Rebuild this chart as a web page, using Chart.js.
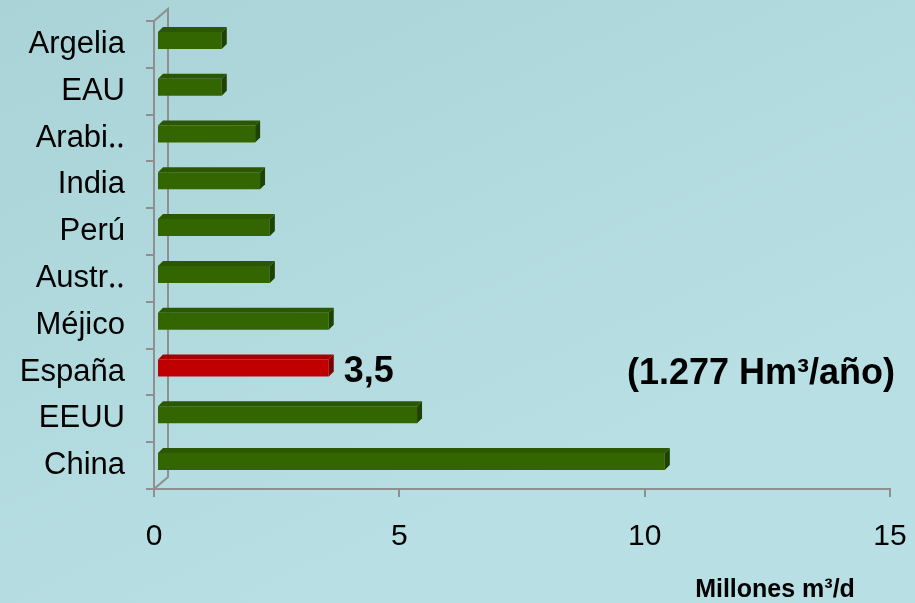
<!DOCTYPE html>
<html>
<head>
<meta charset="utf-8">
<script src="https://cdn.jsdelivr.net/npm/chart.js@4.4.1/dist/chart.umd.min.js"></script>
<style>
html,body{margin:0;padding:0;background:#b0dadd;}
#wrap{width:915px;height:603px;position:relative;}
</style>
</head>
<body>
<div id="wrap"><canvas id="c"></canvas></div>
<script>
const categories = ['Argelia','EAU','Arabi\u2025','India','Per\u00fa','Austr\u2025','M\u00e9jico','Espa\u00f1a','EEUU','China'];
const values = [1.32, 1.32, 2.0, 2.1, 2.3, 2.3, 3.5, 3.5, 5.3, 10.35];
const highlight = 'Espa\u00f1a';
const highlightLabel = '3,5';
const noteText = '(1.277 Hm\u00b3/a\u00f1o)';
const axisTitle = 'Millones m\u00b3/d';
const xTicks = [0, 5, 10, 15];

const FRONT = {g:'#336600', r:'#c00000'};
const TOP = {g:'#2b5700', r:'#a80000'};
const SIDE = {g:'#1f4200', r:'#7a0000'};
const SHIFT = {x:3, y:-4};
const DEPTH = 5;

const bgPlugin = {
  id:'bg',
  beforeDraw(chart){
    const {ctx, width, height} = chart;
    const g = ctx.createLinearGradient(0,0,width*0.3,height);
    g.addColorStop(0,'#a9d3d7');
    g.addColorStop(1,'#b8e0e4');
    ctx.save(); ctx.fillStyle = g; ctx.fillRect(0,0,width,height); ctx.restore();
  }
};

const axis3d = {
  id:'axis3d',
  beforeDatasetsDraw(chart){
    const {ctx, chartArea:a} = chart;
    const dx = 14, dy = -12;
    ctx.save();
    ctx.strokeStyle = '#8f8f8f';
    ctx.lineWidth = 2;
    ctx.beginPath();
    ctx.moveTo(a.left, a.top); ctx.lineTo(a.left+dx, a.top+dy);
    ctx.lineTo(a.left+dx, a.bottom+dy); ctx.lineTo(a.left, a.bottom);
    ctx.stroke();
    ctx.restore();
  }
};

const bars3d = {
  id:'bars3d',
  beforeDatasetsDraw(chart){
    chart.ctx.save();
    chart.ctx.translate(SHIFT.x, SHIFT.y);
  },
  afterDatasetsDraw(chart){
    const ctx = chart.ctx;
    const meta = chart.getDatasetMeta(0);
    meta.data.forEach((bar, i) => {
      const {x, y, base, height} = bar.getProps(['x','y','base','height'], true);
      const key = categories[i] === highlight ? 'r' : 'g';
      const t = y - height/2, b = y + height/2;
      ctx.fillStyle = TOP[key];
      ctx.beginPath();
      ctx.moveTo(base, t); ctx.lineTo(x, t); ctx.lineTo(x+DEPTH, t-DEPTH); ctx.lineTo(base+DEPTH, t-DEPTH); ctx.closePath(); ctx.fill();
      ctx.fillStyle = SIDE[key];
      ctx.beginPath();
      ctx.moveTo(x, t); ctx.lineTo(x+DEPTH, t-DEPTH); ctx.lineTo(x+DEPTH, b-DEPTH); ctx.lineTo(x, b); ctx.closePath(); ctx.fill();
      if (categories[i] === highlight) {
        ctx.fillStyle = '#000';
        ctx.font = 'bold 36px "Liberation Sans", Arial, sans-serif';
        ctx.textAlign = 'left'; ctx.textBaseline = 'middle';
        ctx.fillText(highlightLabel, x + 15, y + 4);
      }
    });
    ctx.restore();
  },
  afterDraw(chart){
    const ctx = chart.ctx;
    ctx.save();
    ctx.fillStyle = '#000';
    ctx.textBaseline = 'middle';
    ctx.font = 'bold 36px "Liberation Sans", Arial, sans-serif';
    ctx.textAlign = 'right';
    ctx.fillText(noteText, 895, 374);
    ctx.font = 'bold 25px "Liberation Sans", Arial, sans-serif';
    ctx.textAlign = 'center';
    ctx.fillText(axisTitle, 775, 590);
    ctx.restore();
  }
};

function noPad(s){ s.paddingTop = 0; s.paddingBottom = 0; s.paddingLeft = 0; s.paddingRight = 0; }

new Chart(document.getElementById('c'), {
  type:'bar',
  data:{
    labels: categories,
    datasets:[{
      data: values,
      backgroundColor: categories.map(c => c === highlight ? FRONT.r : FRONT.g),
      borderWidth: 0,
      categoryPercentage: 0.8,
      barPercentage: 0.455
    }]
  },
  options:{
    indexAxis:'y',
    responsive:true,
    maintainAspectRatio:false,
    animation:false,
    events:[],
    layout:{padding:{top:21, right:25, left:0, bottom:0}},
    plugins:{legend:{display:false}, tooltip:{enabled:false}},
    scales:{
      x:{
        min:0, max:15,
        afterBuildTicks(s){ s.ticks = xTicks.map(v => ({value:v})); },
        afterFit(s){ s.height = 114; noPad(s); },
        grid:{drawOnChartArea:false, drawTicks:true, tickLength:8, color:'#8f8f8f', lineWidth:2},
        border:{display:true, color:'#8f8f8f', width:2},
        ticks:{color:'#000', padding:22, font:{family:'"Liberation Sans", Arial, sans-serif', size:30}}
      },
      y:{
        afterFit(s){ s.width = 154; noPad(s); },
        grid:{drawOnChartArea:false, drawTicks:true, tickLength:8, color:'#8f8f8f', lineWidth:2},
        border:{display:true, color:'#8f8f8f', width:2},
        ticks:{color:'#000', padding:21, font:{family:'"Liberation Sans", Arial, sans-serif', size:31}}
      }
    }
  },
  plugins:[bgPlugin, axis3d, bars3d]
});
</script>
</body>
</html>
